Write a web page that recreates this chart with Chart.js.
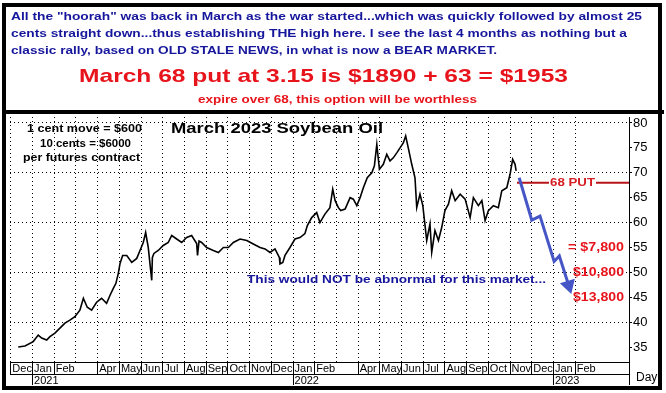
<!DOCTYPE html>
<html>
<head>
<meta charset="utf-8">
<script src="https://cdn.jsdelivr.net/npm/chart.js@4.4.0/dist/chart.umd.min.js"></script>
<style>
  html, body { margin: 0; padding: 0; background: #fff; }
</style>
</head>
<body>
<canvas id="mycanvas" width="666" height="393"></canvas>
<script>
// x values are months counted from Jan 2021 (0 = Jan 2021, 12 = Jan 2022)
var xMin = -1.04, xMax = 27.48;
var monthTicks = [-1,0,1,2,3,4,5,6,7,8,9,10,11,12,13,14,15,16,17,18,19,20,21,22,23,24,25];
var monthLabels = ['Dec','Jan','Feb','','Apr','May','Jun','Jul','Aug','Sep','Oct','Nov','Dec',
                   'Jan','Feb','','Apr','May','Jun','Jul','Aug','Sep','Oct','Nov','Dec','Jan','Feb'];
var noSeparator = [2, 14]; // March has a grid line but no label box
var yearTicks = [0, 12, 24];
var yearLabels = ['2021', '2022', '2023'];
var priceTicks = [35, 40, 45, 50, 55, 60, 65, 70, 75, 80];

// March 2023 soybean oil, cents/lb
var priceMonths = [-0.66,-0.35,0.03,0.26,0.42,0.65,0.80,1.03,1.26,1.49,
  1.72,1.95,2.18,2.34,2.52,2.72,2.95,3.18,3.41,3.57,
  3.72,3.84,3.95,4.03,4.15,4.34,4.57,4.80,4.95,5.10,
  5.21,5.33,5.49,5.52,5.59,5.79,6.02,6.25,6.41,6.64,
  6.87,7.10,7.33,7.56,7.60,7.67,7.79,8.02,8.33,8.56,
  8.79,9.02,9.25,9.56,9.87,10.17,10.48,10.71,10.94,11.17,
  11.37,11.40,11.53,11.63,11.86,12.09,12.32,12.55,12.66,12.86,
  13.09,13.24,13.47,13.70,13.83,13.94,14.09,14.20,14.40,14.63,
  14.78,14.94,15.09,15.24,15.42,15.63,15.75,15.86,15.98,16.16,
  16.32,16.47,16.62,16.78,16.93,17.08,17.19,17.31,17.47,17.62,
  17.70,17.85,17.98,18.16,18.31,18.39,18.54,18.70,18.85,19.00,
  19.16,19.31,19.47,19.70,19.93,20.16,20.31,20.54,20.70,20.85,
  21.00,21.23,21.46,21.62,21.85,22.00,22.12,22.23,22.28];
var priceValues = [35.0,35.2,36.1,37.4,36.8,36.4,37.1,37.8,38.8,39.8,
  40.4,41.1,42.4,44.8,43.0,42.4,44.0,44.8,43.8,45.4,
  46.8,47.8,49.8,51.8,53.4,53.4,52.0,52.8,54.4,56.0,
  58.0,55.0,48.4,53.0,53.8,54.4,55.4,56.0,57.4,56.7,
  56.0,57.0,57.4,55.8,53.4,56.3,56.0,55.0,54.4,54.0,
  55.0,55.0,56.0,56.7,56.4,55.7,55.0,54.7,54.0,54.7,
  53.0,51.7,52.0,53.4,55.0,56.7,57.0,57.8,59.4,61.0,
  62.0,60.0,61.7,63.0,66.7,64.4,63.0,62.4,62.7,65.0,
  64.7,63.4,65.0,67.0,69.0,70.0,71.4,75.7,70.7,71.7,
  73.7,72.4,73.0,74.0,75.0,76.0,77.4,75.0,71.7,69.0,
  63.0,65.7,63.4,56.4,59.7,54.0,58.4,56.4,59.0,62.4,
  63.7,66.4,64.4,65.7,64.7,61.0,65.0,63.4,64.4,60.4,
  62.4,63.4,63.0,66.4,67.0,69.7,72.7,71.7,70.4];

// projected move (blue arrow) and the 68 put strike
var arrowMonths = [22.42, 23.0, 23.38, 24.03, 24.27, 24.70];
var arrowValues = [69.0, 60.5, 61.3, 52.2, 53.3, 47.4];
var putMonths = [22.32, 27.48];
var putValues = [68, 68];

var payoffLabels = ['= $7,800', '$10,800', '$13,800'];
var payoffLevels = [55, 50, 45];

var header = [
  'All the "hoorah" was back in March as the war started...which was quickly followed by almost 25',
  'cents straight down...thus establishing THE high here. I see the last 4 months as nothing but a',
  'classic rally, based on OLD STALE NEWS, in what is now a BEAR MARKET.'
];

function toPoints(xs, ys) {
  return xs.map(function(x, i) { return {x: x, y: ys[i]}; });
}

// draws text squeezed/stretched to a given width
function fitText(c, txt, x, y, w, font, color) {
  c.font = font;
  c.fillStyle = color;
  var m = c.measureText(txt).width;
  c.save();
  c.translate(x, y);
  c.scale(w / m, 1);
  c.textAlign = 'left';
  c.textBaseline = 'middle';
  c.fillText(txt, 0, 0);
  c.restore();
}

var decor = {
  id: 'decor',
  beforeDraw: function(chart) {
    var c = chart.ctx;
    c.save();
    c.fillStyle = '#fff';
    c.fillRect(0, 0, chart.width, chart.height);
    c.restore();
  },
  afterDraw: function(chart) {
    var c = chart.ctx, ys = chart.scales.y;
    c.save();
    // frames
    c.strokeStyle = '#000';
    c.lineWidth = 4;
    c.strokeRect(4, 5, 656, 383);
    c.fillStyle = '#000';
    c.fillRect(2, 110, 662, 4);

    // header box
    var blue = '#16169c', red = '#e8141c';
    fitText(c, header[0], 11, 17, 631, 'bold 11.5px Arial', blue);
    fitText(c, header[1], 11, 34, 616, 'bold 11.5px Arial', blue);
    fitText(c, header[2], 11, 51, 486, 'bold 11.5px Arial', blue);
    fitText(c, 'March 68 put at 3.15 is $1890 + 63 = $1953', 79, 77, 489, 'bold 19px Arial', red);
    fitText(c, 'expire over 68, this option will be worthless', 198, 100, 279, 'bold 10.5px Arial', red);

    // chart notes
    fitText(c, 'March 2023 Soybean Oil', 171, 129, 212, 'bold 15px Arial', '#000');
    fitText(c, '1 cent move = $600', 27, 129, 115, 'bold 11px Arial', '#000');
    fitText(c, '10 cents = $6000', 40, 143.5, 91, 'bold 11px Arial', '#000');
    fitText(c, 'per futures contract', 23, 158, 117, 'bold 11px Arial', '#000');
    fitText(c, 'This would NOT be abnormal for this market...', 247, 280, 299, 'bold 11.5px Arial', blue);

    // 68 PUT label over the strike line
    var py = ys.getPixelForValue(68);
    c.fillStyle = '#fff';
    c.fillRect(549, py - 6, 47, 12);
    fitText(c, '68 PUT', 550, py, 45, 'bold 11px Arial', '#d41c22');

    // payoff labels
    for (var i = 0; i < payoffLabels.length; i++) {
      var w = i === 0 ? 56 : 51;
      fitText(c, payoffLabels[i], 624 - w, ys.getPixelForValue(payoffLevels[i]), w, 'bold 12px Arial', red);
    }

    c.fillStyle = '#000';
    c.font = '12px Arial';
    c.textAlign = 'left';
    c.textBaseline = 'middle';
    c.fillText('Day', 636, 378);
    c.restore();
  }
};

var lastArrow = arrowMonths.length - 1;

new Chart(document.getElementById('mycanvas'), {
  type: 'line',
  data: {
    datasets: [
      {
        label: 'March 2023 Soybean Oil',
        data: toPoints(priceMonths, priceValues),
        borderColor: '#000',
        borderWidth: 1.6,
        pointRadius: 0,
        tension: 0
      },
      {
        label: 'Projection',
        data: toPoints(arrowMonths, arrowValues),
        borderColor: '#4656c6',
        backgroundColor: '#4656c6',
        borderWidth: 3,
        pointStyle: 'triangle',
        pointRadius: function(ctx) { return ctx.dataIndex === lastArrow ? 6 : 0; },
        pointRotation: 163,
        tension: 0
      },
      {
        label: '68 PUT',
        data: toPoints(putMonths, putValues),
        borderColor: '#b8161b',
        borderWidth: 2,
        pointRadius: 0
      }
    ]
  },
  options: {
    responsive: false,
    animation: false,
    devicePixelRatio: 1,
    layout: { padding: { left: 10, top: 117, right: 0, bottom: 8 } },
    plugins: { legend: { display: false }, tooltip: { enabled: false } },
    scales: {
      x: {
        type: 'linear',
        position: 'bottom',
        weight: 0,
        min: xMin,
        max: xMax,
        afterBuildTicks: function(axis) {
          axis.ticks = monthTicks.concat([xMax]).map(function(v) { return {value: v}; });
        },
        afterFit: function(axis) { axis.height = 12; },
        grid: {
          color: function(ctx) { return ctx.tick && ctx.tick.value === xMax ? 'transparent' : '#000'; },
          lineWidth: 1,
          tickLength: 12,
          tickColor: function(ctx) {
            return ctx.tick && noSeparator.indexOf(ctx.tick.value) >= 0 ? 'transparent' : '#000';
          }
        },
        border: { display: true, color: '#000', width: 1, dash: [1, 3] },
        ticks: {
          autoSkip: false,
          maxRotation: 0,
          minRotation: 0,
          align: 'start',
          labelOffset: 1.5,
          padding: -12,
          color: '#000',
          font: { family: 'Arial', size: 11 },
          callback: function(v, i) { return monthLabels[i] || ''; }
        }
      },
      xYear: {
        type: 'linear',
        position: 'bottom',
        weight: 1,
        min: xMin,
        max: xMax,
        afterBuildTicks: function(axis) {
          axis.ticks = yearTicks.concat([xMax]).map(function(v) { return {value: v}; });
        },
        afterFit: function(axis) { axis.height = 11; },
        grid: { drawOnChartArea: false, tickLength: 11, tickColor: '#000' },
        border: { display: true, color: '#000', width: 1 },
        ticks: {
          autoSkip: false,
          maxRotation: 0,
          minRotation: 0,
          align: 'start',
          labelOffset: 1.5,
          padding: -11,
          color: '#000',
          font: { family: 'Arial', size: 11 },
          callback: function(v, i) { return yearLabels[i] || ''; }
        }
      },
      y: {
        type: 'linear',
        position: 'right',
        min: 32,
        max: 81.2,
        afterBuildTicks: function(axis) {
          axis.ticks = priceTicks.map(function(v) { return {value: v}; });
        },
        afterFit: function(axis) { axis.width = 37; },
        grid: {
          color: function(ctx) { return ctx.tick && ctx.tick.value % 10 === 0 ? '#000' : 'transparent'; },
          lineWidth: 1,
          tickLength: 3,
          tickColor: '#000'
        },
        border: { display: true, color: '#000', width: 1, dash: [1, 3] },
        ticks: {
          padding: 1,
          color: '#000',
          font: { family: 'Arial', size: 13 }
        }
      }
    }
  },
  plugins: [decor]
});
</script>
</body>
</html>
